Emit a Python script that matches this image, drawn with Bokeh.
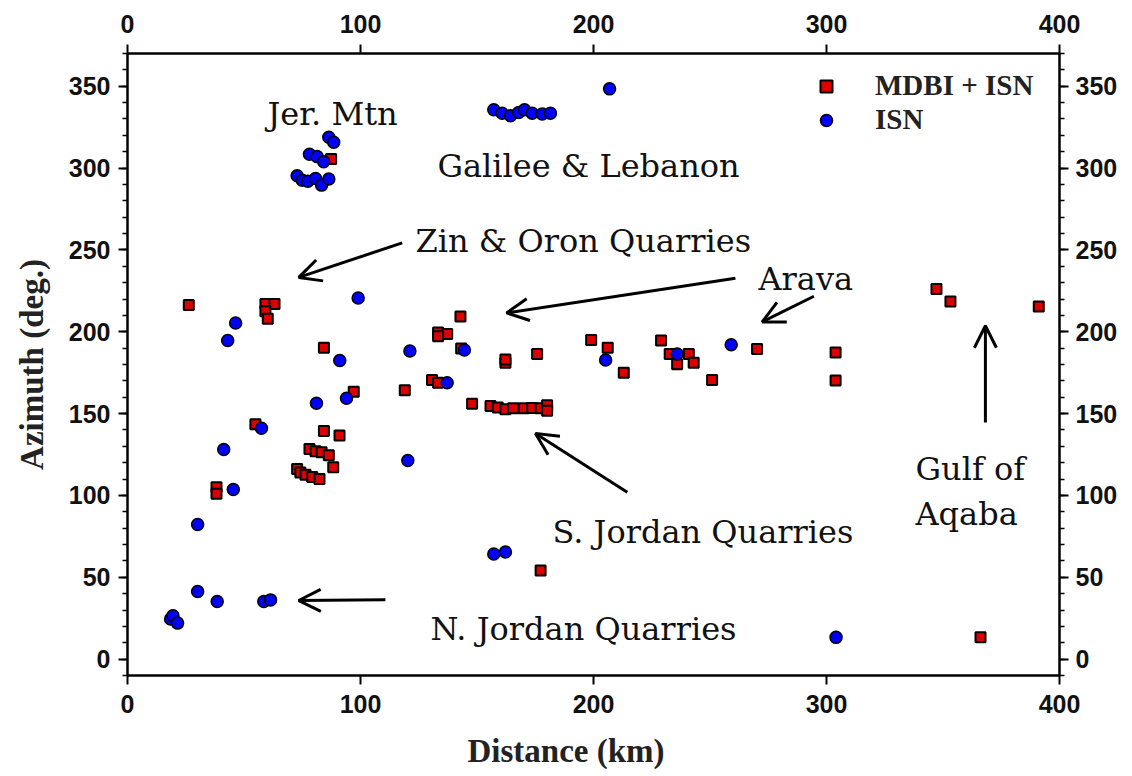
from bokeh.plotting import figure
from bokeh.models import (LinearAxis, SingleIntervalTicker, Arrow, OpenHead, Legend,
                          LegendItem, Range1d, ColumnDataSource, Title)
from bokeh.core.properties import value
from bokeh.embed import file_html
from bokeh.resources import INLINE

# ---- data (distance km, azimuth deg) ----
mdbi_dist = [26.3, 59.2, 63.1, 59.2, 60.2, 84.3, 97.1, 119.0, 54.9, 84.3, 91.0,
             78.1, 80.7, 83.3, 86.4, 88.3, 72.8, 74.2, 76.4, 79.3, 82.4, 38.2, 38.2,
             87.4, 142.9, 133.3, 137.2, 133.3, 162.2, 162.2, 175.8, 130.7, 133.3,
             147.9, 155.8, 158.9, 162.2, 165.5, 170.1, 173.7, 177.3, 180.1, 180.1,
             199.0, 206.1, 213.0, 229.0, 232.7, 240.9, 235.9, 243.0, 250.9, 270.2,
             303.9, 303.9, 347.2, 353.2, 391.1, 177.3, 366.1, 143.2]
mdbi_az = [216.4, 217.0, 217.0, 212.6, 207.9, 190.3, 163.3, 164.3, 143.5, 139.4, 136.7,
           128.4, 127.0, 126.4, 124.6, 117.3, 116.1, 114.0, 112.6, 111.2, 110.0, 105.0, 101.0,
           305.5, 209.3, 199.5, 198.6, 197.3, 181.1, 183.0, 186.4, 170.6, 168.8,
           156.0, 154.7, 153.7, 152.7, 153.3, 153.3, 153.5, 153.3, 155.1, 151.7,
           195.0, 190.3, 175.0, 194.6, 186.4, 186.4, 180.2, 181.1, 170.6, 189.5,
           187.3, 170.3, 226.2, 218.5, 215.5, 54.2, 13.3, 189.8]

isn_dist = [86.4, 88.5, 78.1, 81.4, 84.2, 72.8, 75.0, 77.4, 80.7, 83.3, 86.4,
            206.9, 157.2, 160.8, 164.4, 167.9, 170.4, 173.7, 178.0, 181.5,
            99.0, 46.4, 43.0, 121.2, 91.1, 94.0, 81.1, 57.5, 41.3, 120.3, 45.4, 30.1,
            144.6, 137.2, 205.2, 235.9, 259.1, 157.2, 162.2,
            30.1, 38.5, 58.5, 61.4, 18.5, 19.5, 21.5, 304.1]
isn_az = [318.8, 315.8, 308.4, 307.0, 303.9, 295.3, 292.6, 292.0, 293.6, 289.6, 293.3,
          348.4, 335.6, 333.5, 332.0, 334.0, 335.6, 333.5, 333.0, 333.5,
          220.6, 205.4, 194.7, 188.3, 182.4, 159.4, 156.3, 141.0, 128.1, 121.4, 103.6, 82.2,
          188.9, 168.8, 182.7, 186.4, 192.1, 64.2, 65.4,
          41.3, 35.2, 35.2, 36.2, 24.5, 26.5, 22.0, 13.3]

# ---- annotations ----
label_text = ["Jer. Mtn", "Galilee & Lebanon", "Zin & Oron Quarries", "Arava",
              "S. Jordan Quarries", "N. Jordan Quarries", "Gulf of", "Aqaba"]
label_x = [60.1, 133.0, 123.6, 270.8, 182.4, 130.0, 338.2, 338.2]
label_y = [333.0, 301.3, 255.7, 232.3, 77.5, 18.5, 116.2, 88.8]

arrow_x0 = [117.9, 260.9, 294.6, 214.5, 110.7, 368.2]
arrow_y0 = [254.3, 232.7, 221.7, 101.9, 36.3, 144.6]
arrow_x1 = [73.5, 162.7, 272.4, 175.1, 73.5, 368.2]
arrow_y1 = [233.2, 211.5, 206.0, 137.8, 35.8, 203.7]

x_ticks_interval = 100
y_ticks_interval = 50

p = figure(frame_width=932, frame_height=622,
           x_range=Range1d(0, 400), y_range=Range1d(-10, 370),
           x_axis_location=None, y_axis_location=None,
           output_backend="svg", toolbar_location=None,
           min_border_left=127, min_border_right=65,
           min_border_top=53, min_border_bottom=101)
p.grid.visible = False
p.outline_line_color = None
p.background_fill_color = "white"
p.border_fill_color = "white"


def style_axis(ax, standoff):
    ax.axis_line_width = 2.5
    ax.axis_line_color = "black"
    ax.major_tick_line_width = 2
    ax.major_tick_in = 0
    ax.major_tick_out = 9
    ax.minor_tick_line_width = 1.5
    ax.minor_tick_in = 0
    ax.minor_tick_out = 5
    ax.major_label_text_font = "Liberation Sans"
    ax.major_label_text_font_style = "bold"
    ax.major_label_text_font_size = "25px"
    ax.major_label_text_color = "#111111"
    ax.major_label_standoff = standoff
    ax.axis_label_text_font = "Liberation Serif"
    ax.axis_label_text_font_style = "bold"
    ax.axis_label_text_font_size = "33px"
    ax.axis_label_text_color = "#222222"


x_std = {"below": 10, "above": 12}
for loc in ["below", "above"]:
    ax = LinearAxis(ticker=SingleIntervalTicker(interval=x_ticks_interval, num_minor_ticks=0))
    style_axis(ax, x_std[loc])
    p.add_layout(ax, loc)

y_std = {"left": 8, "right": 7}
for loc in ["left", "right"]:
    ax = LinearAxis(ticker=SingleIntervalTicker(interval=y_ticks_interval, num_minor_ticks=5))
    style_axis(ax, y_std[loc])
    if loc == "left":
        ax.axis_label = "Azimuth (deg.)"
        ax.axis_label_standoff = 16
    p.add_layout(ax, loc)

# x-axis label (slightly left of centre, as in the reference)
p.add_layout(Title(text="Distance (km)", align="left", offset=340, standoff=30,
                   vertical_align="bottom",
                   text_font="Liberation Serif", text_font_style="bold",
                   text_font_size="33px", text_color="#222222"), "below")

red = p.scatter(mdbi_dist, mdbi_az, marker="square", size=10,
                fill_color="#dd0000", line_color="black", line_width=2)
blue = p.scatter(isn_dist, isn_az, marker="circle", size=12,
                 fill_color="#0000ff", line_color="black", line_width=1.5)

p.text(x=label_x, y=label_y, text=label_text,
       text_font=value("DejaVu Serif"), text_font_size="32px",
       text_color="#111111", text_align="left", text_baseline="alphabetic")

arrow_src = ColumnDataSource(dict(x0=arrow_x0, y0=arrow_y0, x1=arrow_x1, y1=arrow_y1))
p.add_layout(Arrow(end=OpenHead(size=22, line_width=3, line_color="black"),
                   x_start="x0", y_start="y0", x_end="x1", y_end="y1",
                   line_width=3, line_color="black", source=arrow_src))

legend = Legend(items=[LegendItem(label="MDBI + ISN", renderers=[red]),
                       LegendItem(label="ISN", renderers=[blue])],
                location=(684, 539), orientation="vertical",
                label_text_font="Liberation Serif", label_text_font_style="bold",
                label_text_font_size="29px", label_text_color="#222222",
                glyph_width=30, glyph_height=30, label_height=30,
                spacing=1, padding=0, margin=0, label_standoff=34,
                border_line_color=None, background_fill_alpha=0)
p.add_layout(legend)

open("out.html", "w").write(file_html(p, INLINE))
